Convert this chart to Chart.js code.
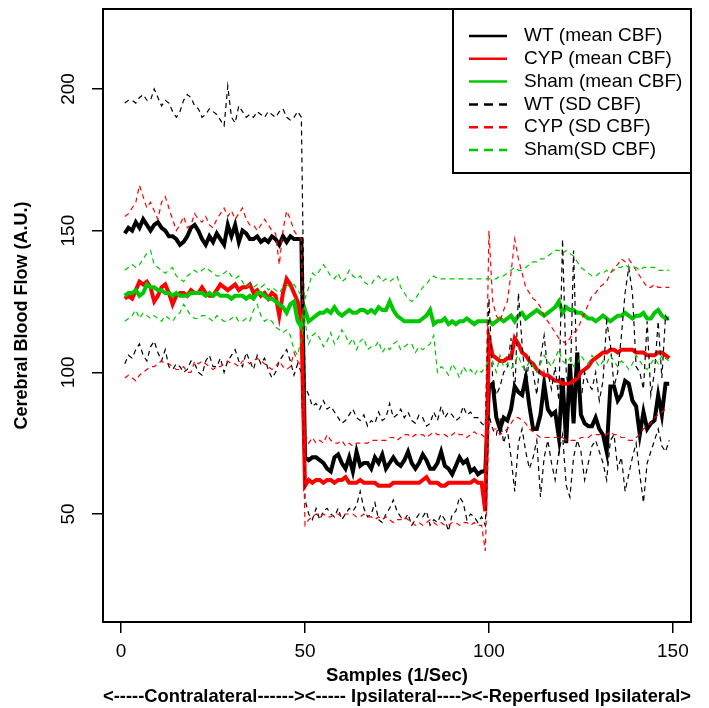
<!DOCTYPE html>
<html>
<head>
<meta charset="utf-8">
<script src="https://cdn.jsdelivr.net/npm/chart.js@4.4.1/dist/chart.umd.min.js"></script>
<style>
  html, body { margin: 0; padding: 0; background: #fff; }
  #cbf_chart { display: block; }
</style>
</head>
<body>
<canvas id="cbf_chart" width="709" height="708"></canvas>
<script>
// CBF per sample (1/sec), samples 1..149
var wtMean = [
    149, 151, 150, 153, 151, 154, 152, 150, 152, 153,
    151, 150, 148, 148, 147, 145, 146, 148, 151, 152,
    150, 147, 145, 148, 146, 149, 147, 145, 152, 148,
    152, 146, 150, 149, 147, 147, 148, 146, 147, 146,
    148, 147, 145, 148, 146, 148, 147, 147, 147, 70,
    69, 70, 70, 69, 68, 66, 65, 70, 71, 68,
    66, 70, 65, 72, 67, 68, 68, 66, 70, 68,
    71, 66, 68, 70, 68, 67, 69, 72, 68, 66,
    68, 71, 69, 66, 66, 68, 72, 67, 66, 64,
    67, 70, 68, 69, 65, 66, 64, 65, 65, 95,
    96, 84, 80, 84, 83, 87, 95, 93, 92, 98,
    88, 80, 80, 85, 96, 87, 85, 86, 77, 98,
    75, 103, 82, 107, 85, 82, 81, 81, 84, 80,
    78, 72, 95, 95, 90, 92, 97, 96, 90, 88,
    78, 86, 80, 82, 83, 92, 85, 96, 96
];
var cypMean = [
    126, 127, 126, 129, 132, 131, 132, 130, 125, 127,
    130, 131, 128, 124, 127, 128, 128, 127, 129, 128,
    128, 130, 128, 127, 127, 129, 131, 130, 129, 130,
    131, 129, 130, 130, 131, 128, 129, 127, 128, 126,
    128, 127, 120, 128, 133, 131, 128, 125, 118, 60,
    62, 61, 62, 62, 61, 62, 62, 61, 62, 62,
    63, 61, 61, 61, 62, 61, 61, 61, 61, 60,
    60, 60, 60, 61, 61, 61, 61, 61, 61, 61,
    61, 62, 63, 61, 61, 61, 60, 60, 61, 61,
    61, 61, 61, 61, 61, 62, 61, 61, 51, 112,
    106, 105, 104, 104, 105, 105, 112, 110, 107, 106,
    104, 103, 101, 100, 99, 99, 98, 97, 97, 96,
    96, 96, 97, 98, 100, 101, 102, 104, 105, 106,
    107, 107, 108, 108, 107, 108, 108, 108, 108, 107,
    107, 107, 106, 106, 106, 107, 107, 106, 105
];
var shamMean = [
    127, 128, 128, 129, 127, 128, 131, 130, 130, 129,
    129, 128, 128, 127, 128, 127, 127, 127, 128, 128,
    128, 128, 127, 128, 127, 128, 127, 127, 127, 126,
    127, 127, 127, 126, 127, 126, 128, 128, 127, 126,
    126, 125, 124, 123, 121, 124, 125, 118, 116, 122,
    118, 119, 120, 121, 121, 122, 121, 123, 121, 120,
    121, 122, 121, 121, 122, 122, 121, 122, 121, 123,
    122, 122, 125, 122, 120, 119, 118, 118, 118, 118,
    118, 119, 120, 122, 117, 118, 118, 119, 117, 118,
    117, 118, 118, 119, 118, 117, 118, 118, 118, 118,
    117, 118, 119, 118, 119, 120, 118, 120, 121, 119,
    120, 121, 122, 121, 120, 121, 122, 123, 125, 121,
    123, 122, 122, 121, 121, 120, 119, 119, 118, 119,
    120, 119, 118, 119, 120, 120, 121, 120, 119, 120,
    120, 121, 119, 119, 121, 122, 120, 119, 119
];
var wtSdHigh = [
    195, 196, 196, 195, 197, 198, 196, 196, 200, 197,
    194, 196, 195, 192, 190, 192, 196, 198, 197, 194,
    193, 190, 191, 193, 192, 191, 189, 187, 201, 190,
    188, 194, 192, 190, 191, 190, 192, 191, 190, 192,
    191, 190, 192, 193, 190, 189, 190, 192, 190, 95,
    92, 88, 89, 87, 90, 87, 88, 86, 84, 82,
    83, 85, 87, 84, 83, 85, 81, 83, 82, 86,
    83, 84, 89, 84, 85, 87, 84, 86, 83, 82,
    85, 84, 81, 82, 86, 83, 88, 84, 86, 85,
    83, 84, 88, 85, 86, 84, 84, 82, 81, 126,
    98, 92, 95, 100, 102, 112, 92, 128, 110, 95,
    105, 100, 92, 105, 113, 100, 94, 102, 90, 147,
    100, 90, 143, 95, 90, 100, 96, 94, 100, 90,
    97, 118, 110, 95, 100, 113, 128, 137, 128, 102,
    100, 94, 118, 92, 100, 118, 98, 120, 118
];
var wtSdLow = [
    103, 106, 105, 108, 110, 106, 104, 109, 111, 107,
    104, 108, 102, 101, 103, 102, 100, 101, 104, 103,
    100, 99, 104, 106, 102, 102, 105, 100, 104, 106,
    108, 104, 102, 107, 104, 101, 106, 103, 105, 101,
    98, 100, 104, 106, 108, 104, 99, 103, 100, 55,
    50, 48, 52, 48, 51, 52, 50, 49, 52, 48,
    50, 52, 51, 53, 58, 52, 49, 50, 54, 48,
    47, 50, 52, 55, 51, 49, 48, 50, 46, 48,
    50, 49, 51, 46, 48, 47, 50, 48, 44, 50,
    51, 56, 54, 48, 50, 49, 47, 49, 46, 85,
    80, 78, 84, 75, 80, 70, 58, 75, 80, 72,
    66, 70, 76, 56, 70, 76, 68, 62, 72, 78,
    60, 56, 70, 76, 72, 62, 68, 74, 76, 72,
    68, 62, 76, 78, 66, 70, 58, 64, 70, 75,
    64, 54, 68, 72, 76, 80, 74, 72, 76
];
var cypSdHigh = [
    155, 156, 158, 160, 166, 162, 158, 160, 157, 154,
    160, 162, 158, 154, 150, 152, 155, 151, 152, 156,
    154, 153, 155, 152, 151, 154, 156, 158, 155, 157,
    154, 156, 158, 154, 152, 152, 150, 152, 154, 152,
    150, 149, 138, 150, 157, 154, 150, 148, 147, 78,
    75, 77, 75, 76, 75, 78, 76, 75, 75, 76,
    74, 75, 74, 75, 75, 75, 75, 76, 76, 76,
    76, 76, 77, 77, 76, 77, 78, 78, 77, 78,
    78, 78, 77, 78, 79, 78, 78, 78, 77, 78,
    79, 78, 78, 77, 78, 79, 78, 78, 77, 150,
    125, 120, 118, 122, 125, 135, 147, 140, 135, 130,
    128, 126, 125, 123, 120, 118, 116, 114, 112, 111,
    110, 112, 114, 115, 118, 121, 124, 127, 128, 130,
    131, 132, 135, 137, 138, 140, 139, 140, 138, 136,
    134, 132, 130, 130, 131, 130, 130, 130, 130
];
var cypSdLow = [
    98, 99, 98, 97, 99, 100, 101, 102, 102, 103,
    104, 103, 103, 102, 101, 101, 102, 100, 100, 104,
    103, 104, 103, 102, 101, 102, 102, 103, 104, 103,
    103, 102, 104, 104, 103, 104, 105, 104, 103, 102,
    101, 102, 104, 102, 101, 102, 107, 104, 102, 46,
    48, 49, 50, 49, 50, 49, 49, 50, 50, 49,
    50, 50, 50, 49, 49, 50, 49, 49, 48, 49,
    48, 49, 48, 47, 48, 48, 49, 48, 47, 46,
    47, 46, 47, 48, 47, 46, 47, 46, 46, 47,
    47, 46, 47, 47, 46, 47, 46, 46, 37, 82,
    80, 80, 78, 79, 80, 82, 84, 84, 83, 82,
    80, 79, 78, 77, 77, 77, 77, 77, 77, 77,
    76, 76, 76, 76, 77, 77, 77, 78, 78, 78,
    78, 78, 79, 78, 78, 77, 77, 76, 76, 77,
    78, 80, 81, 82, 84, 85, 86, 87, 87
];
var shamSdHigh = [
    136, 137, 138, 137, 138, 140, 142, 143, 138, 137,
    136, 135, 136, 137, 134, 133, 132, 134, 135, 136,
    135, 136, 137, 136, 135, 134, 134, 135, 136, 134,
    133, 134, 132, 130, 131, 130, 131, 130, 131, 129,
    130, 129, 128, 130, 131, 130, 131, 129, 127, 126,
    130, 135, 134, 136, 138, 136, 134, 133, 135, 132,
    133, 136, 134, 133, 134, 132, 131, 131, 133, 134,
    132, 133, 132, 133, 134, 130, 128, 126, 125, 126,
    128, 130, 131, 133, 134, 133, 133, 133, 133, 133,
    133, 133, 133, 133, 133, 133, 133, 133, 133, 133,
    133, 133, 134, 134, 135, 136, 137, 136, 136, 137,
    138, 139, 139, 140, 140, 141, 142, 143, 143, 142,
    143, 142, 141, 139, 137, 136, 135, 134, 134, 135,
    135, 136, 135, 136, 137, 137, 138, 137, 137, 137,
    136, 137, 137, 137, 137, 136, 136, 136, 136
];
var shamSdLow = [
    118, 119, 120, 122, 119, 121, 120, 119, 120, 119,
    118, 120, 119, 118, 120, 121, 124, 122, 120, 119,
    119, 120, 120, 119, 118, 120, 119, 118, 118, 119,
    120, 118, 118, 119, 118, 122, 124, 120, 118, 119,
    118, 116, 115, 114, 115, 113, 108, 106, 112, 118,
    110, 113, 114, 112, 109, 111, 114, 110, 112, 115,
    113, 110, 112, 108, 111, 112, 108, 109, 109, 111,
    107, 109, 108, 110, 111, 108, 109, 110, 110, 107,
    109, 108, 109, 110, 113, 100, 102, 101, 99, 103,
    101, 98, 102, 100, 101, 99, 101, 100, 102, 104,
    104, 100, 106, 102, 103, 101, 104, 106, 102, 101,
    104, 102, 100, 103, 106, 104, 102, 105, 108, 104,
    103, 105, 102, 103, 106, 104, 103, 106, 104, 102,
    104, 103, 106, 104, 102, 104, 103, 101, 103, 106,
    104, 102, 101, 103, 105, 103, 106, 105, 104
];

var xTicks = [0, 50, 100, 150];
var yTicks = [50, 100, 150, 200];
var xTitle = ['Samples (1/Sec)', '<-----Contralateral------><----- Ipsilateral----><-Reperfused Ipsilateral>'];
var yTitle = 'Cerebral Blood Flow (A.U.)';

function pts(values) {
    return values.map(function (v, i) { return { x: i + 1, y: v }; });
}

function line(label, values, color, dashed, order) {
    return {
        label: label,
        data: pts(values),
        borderColor: color,
        borderWidth: dashed ? 1.2 : 4,
        borderDash: dashed ? [5, 4] : [],
        pointRadius: 0,
        tension: 0,
        fill: false,
        order: order
    };
}

// box round the plot plus an R style legend in the top right corner
var boxAndLegend = {
    id: 'boxAndLegend',
    afterDraw: function (chart) {
        var c = chart.ctx, a = chart.chartArea;
        c.save();
        c.strokeStyle = '#000';
        c.lineWidth = 2;
        c.setLineDash([]);
        c.strokeRect(a.left, a.top, a.right - a.left, a.bottom - a.top);

        var w = 238, h = 164, x0 = a.right - w, y0 = a.top;
        c.fillStyle = '#fff';
        c.fillRect(x0, y0, w, h);
        c.strokeRect(x0, y0, w, h);
        c.font = '19px "Liberation Sans", Arial, sans-serif';
        c.textBaseline = 'middle';
        chart.data.datasets.slice(0, 6).forEach(function (ds, i) {
            var y = y0 + 27 + i * 22.8;
            c.beginPath();
            c.strokeStyle = ds.borderColor;
            c.lineWidth = 2.5;
            c.setLineDash(ds.borderDash.length ? [9, 6] : []);
            c.moveTo(x0 + 16, y);
            c.lineTo(x0 + 54, y);
            c.stroke();
            c.setLineDash([]);
            c.fillStyle = '#000';
            c.fillText(ds.label, x0 + 71, y);
        });
        c.restore();
    }
};

function noEdgePadding(s) {
    s.paddingTop = 0;
    s.paddingBottom = 0;
    s.paddingLeft = 0;
    s.paddingRight = 0;
}

Chart.defaults.font.family = '"Liberation Sans", Arial, sans-serif';
Chart.defaults.color = '#000';

var ctx = document.getElementById('cbf_chart').getContext('2d');
var myChart = new Chart(ctx, {
    type: 'line',
    data: {
        datasets: [
            line('WT (mean CBF)', wtMean, '#000000', false, 9),
            line('CYP (mean CBF)', cypMean, '#ff0000', false, 8),
            line('Sham (mean CBF)', shamMean, '#00c800', false, 7),
            line('WT (SD CBF)', wtSdHigh, '#000000', true, 6),
            line('CYP (SD CBF)', cypSdHigh, '#ff0000', true, 5),
            line('Sham(SD CBF)', shamSdHigh, '#00c800', true, 4),
            line('', wtSdLow, '#000000', true, 3),
            line('', cypSdLow, '#ff0000', true, 2),
            line('', shamSdLow, '#00c800', true, 1)
        ]
    },
    options: {
        responsive: false,
        animation: false,
        layout: { padding: { top: 9, right: 18, bottom: 0, left: 0 } },
        plugins: {
            legend: { display: false },
            tooltip: { enabled: false }
        },
        scales: {
            x: {
                type: 'linear',
                min: -4.92,
                max: 154.92,
                afterBuildTicks: function (s) { s.ticks = xTicks.map(function (v) { return { value: v }; }); },
                afterFit: function (s) { s.height = 86; noEdgePadding(s); },
                border: { display: false },
                grid: { drawOnChartArea: false, tickLength: 11, color: '#000', lineWidth: 1.5 },
                ticks: { font: { size: 19 }, padding: 7, maxRotation: 0, color: '#000' },
                title: {
                    display: true,
                    text: xTitle,
                    font: { size: 18.5, weight: 'bold', lineHeight: 1.15 },
                    padding: { top: 0, bottom: 0 },
                    color: '#000'
                }
            },
            y: {
                type: 'linear',
                min: 11.9,
                max: 228.2,
                afterBuildTicks: function (s) { s.ticks = yTicks.map(function (v) { return { value: v }; }); },
                afterFit: function (s) { s.width = 103; noEdgePadding(s); },
                border: { display: false },
                grid: { drawOnChartArea: false, tickLength: 11, color: '#000', lineWidth: 1.5 },
                ticks: { font: { size: 19 }, padding: 7, minRotation: 90, maxRotation: 90, crossAlign: 'center', color: '#000' },
                title: {
                    display: true,
                    text: yTitle,
                    font: { size: 18, weight: 'bold' },
                    padding: { top: 11, bottom: 0 },
                    color: '#000'
                }
            }
        }
    },
    plugins: [boxAndLegend]
});
</script>
</body>
</html>
